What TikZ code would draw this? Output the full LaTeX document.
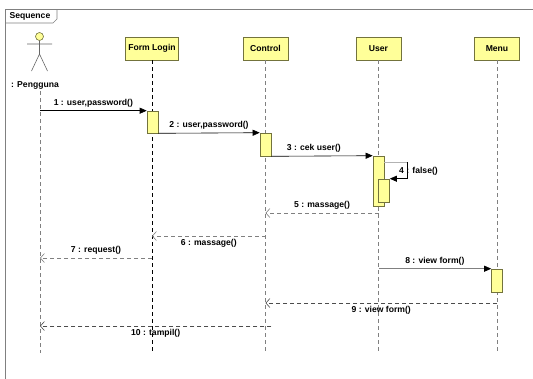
\documentclass[tikz,border=0pt]{standalone}
\usepackage{fontspec}
\setmainfont{Liberation Sans}
\usetikzlibrary{arrows.meta}

\definecolor{umlyellow}{RGB}{255,255,153}
\definecolor{umlborder}{RGB}{115,115,60}
\newcommand{\umlfont}{\fontsize{8.6}{10}\selectfont\bfseries}

\tikzset{
  obj/.style={draw=umlborder, fill=umlyellow, minimum width=45pt, minimum height=23pt, inner xsep=3pt, font=\umlfont},
  act/.style={draw=umlborder, fill=umlyellow, minimum width=11pt, inner sep=0pt},
  lifeline/.style={gray, dash pattern=on 4pt off 3pt},
  call/.style={-{Triangle[length=7pt,width=6pt,color=black]}},
  ret/.style={gray, dash pattern=on 4pt off 3pt, -{Straight Barb[length=4pt,width=9pt]}},
  msg/.style={font=\umlfont, text=black, inner sep=1pt},
}

\begin{document}
\begin{tikzpicture}[x=1pt, y=-1pt, line width=0.6pt]
  \useasboundingbox (0,0) rectangle (533,378);
  \clip (0,0) rectangle (533,378);
  % frame
  \draw[gray] (5,9) rectangle (545,395);
  \draw[gray] (5,23) -- (53,23) -- (57,19) -- (57,9);
  \node[msg] (tab) at (30,16) {Sequence};

  % actor
  \draw[umlborder, fill=umlyellow] (39.5,36.5) circle (4pt);
  \draw[gray!80!black] (39.5,40.5) -- (39.5,54)
    (27,44) -- (52,44)
    (31.5,71) -- (39.5,54) -- (47.5,71);
  \node[msg] (pname) at (35,85) {: Pengguna};
  \coordinate (pengguna) at (40,91);

  % objects
  \node[obj] (form) at (152,48.5) {Form Login};
  \node[obj] (control) at (265.5,48.5) {Control};
  \node[obj] (user) at (378.5,48.5) {User};
  \node[obj] (menu) at (497,48.5) {Menu};
  \coordinate (bottom) at (0,353);

  \draw[lifeline] (pengguna) -- (pengguna |- bottom);
  \draw[lifeline, black] (form.south) -- (form.south |- bottom);
  \foreach \o in {control,user,menu}
    \draw[lifeline] (\o.south) -- (\o.south |- bottom);

  % activations
  \node[act, minimum height=22pt] (a1) at (152.5,122) {};
  \node[act, minimum height=23pt] (a2) at (265.5,144.5) {};
  \node[act, minimum height=50pt] (a3) at (378.5,181) {};
  \node[act, minimum height=23pt] (a4) at (384,190.5) {};
  \node[act, minimum height=23pt] (a5) at (497,280.5) {};

  % messages
  \draw[call] (a1.north west -| pengguna) -- (a1.north west)
    node[msg, midway, above=2pt] {1 : user,password()};
  \draw[call] (a1.south east) -- (a2.north west)
    node[msg, midway, above=2pt] {2 : user,password()};
  \draw[call] (a2.south east) -- (a3.north west)
    node[msg, pos=0.42, above=2pt] {3 : cek user()};

  \coordinate (s4) at (407,162);
  \node[msg] (m4) at (418.5,171) {4 : false()};
  \draw[gray!60] (a3.east |- s4) -- (s4);
  \draw[call] (s4) |- (a4.north east);

  \draw[ret] (a3.south |- 0,213) -- (control |- 0,213)
    node[msg, midway, above=2pt] {5 : massage()};
  \draw[ret] (control |- 0,236) -- (form |- 0,236)
    node[msg, midway, below=2pt] {6 : massage()};
  \draw[ret] (form |- 0,258) -- (pengguna |- 0,258)
    node[msg, midway, above=2pt] {7 : request()};
  \draw[call, gray] (user |- a5.north) -- (a5.north west)
    node[msg, midway, above=2pt] {8 : view form()};
  \draw[ret, black!70] (menu |- 0,303) -- (control |- 0,303)
    node[msg, midway, below=2pt] {9 : view form()};
  \draw[ret, black!70] (a2.east |- 0,326) -- (pengguna |- 0,326)
    node[msg, midway, below=2pt] {10 : tampil()};
\end{tikzpicture}
\end{document}
